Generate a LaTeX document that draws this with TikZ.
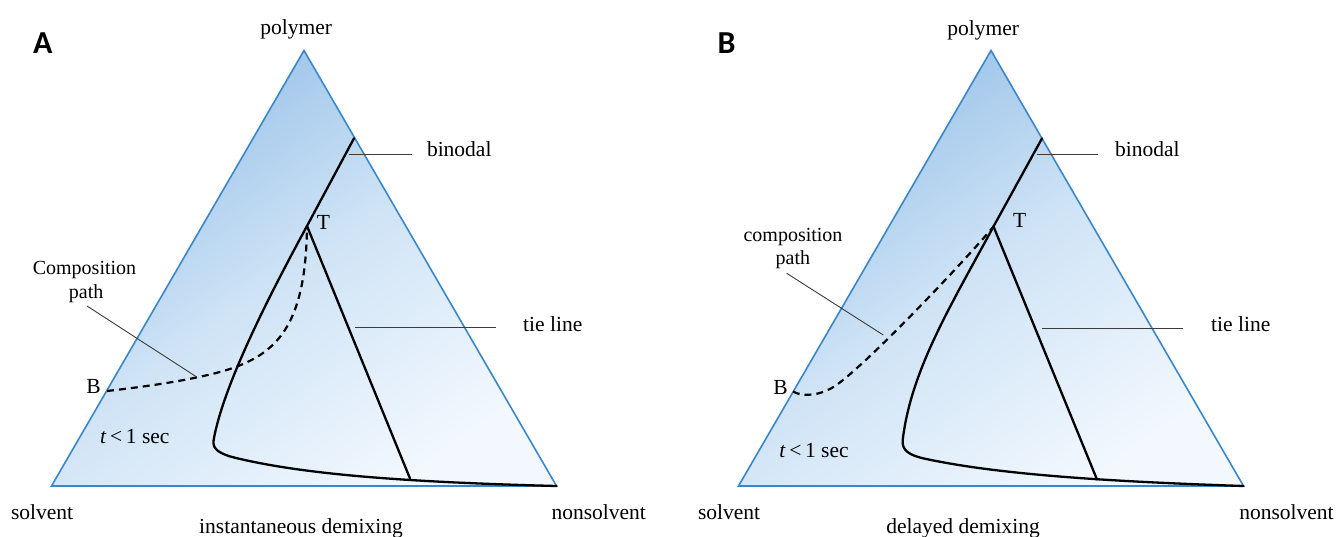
\documentclass[tikz,border=0pt]{standalone}
\usepackage{fontspec}
\setmainfont{Liberation Serif}
\newfontfamily\panelfont{Carlito}
\definecolor{triblue}{RGB}{58,135,201}
\definecolor{shA}{RGB}{150,192,232}
\definecolor{shB}{RGB}{208,228,246}
\definecolor{shC}{RGB}{242,248,254}
\definecolor{leadgray}{RGB}{60,60,60}
\begin{document}
\begin{tikzpicture}[x=1pt,y=-1pt,
  lbl/.style={font=\fontsize{21.5}{24}\selectfont, inner sep=0pt},
  smlbl/.style={font=\fontsize{20}{23}\selectfont, inner sep=0pt},
  paneltag/.style={font=\panelfont\bfseries\fontsize{32}{36}\selectfont, inner sep=0pt},
  tri/.style={draw=triblue, line width=1.6pt, line join=miter},
  bluefill/.style={top color=shA, bottom color=shC, middle color=shB, shading angle=35},
  curve/.style={draw=black, line width=2.3pt, line cap=round, line join=round},
  comppath/.style={draw=black, line width=2.2pt, dash pattern=on 7pt off 5pt},
  leader/.style={draw=leadgray, line width=0.9pt}]
\useasboundingbox (0,0) rectangle (1339,537);

% ---------------- Panel A ----------------
\coordinate (A-top) at (304,50.5);
\coordinate (A-left) at (51.5,486);
\coordinate (A-right) at (556.5,486);
\shade[bluefill] (A-top) -- (A-left) -- (A-right) -- cycle;
\draw[tri] (A-top) -- (A-left) -- (A-right) -- cycle;

\coordinate (A-R) at (354,138.3);
\coordinate (A-T) at (307,226);
\coordinate (A-tieend) at (410,478.5);
\coordinate (A-Bp) at (107,391);

\draw[curve] (A-R) -- (A-T) .. controls (275,285) and (225,380) .. (214,438)
  .. controls (212,447) and (215,452) .. (232,457)
  .. controls (300,474) and (400,482) .. (A-right);
\draw[curve] (A-T) -- (A-tieend);
\draw[comppath] (A-Bp) .. controls (170,384) and (215,375) .. (237,366.5)
  .. controls (280,350) and (306,320) .. (A-T);

\node[paneltag] (A-tag) at (42.7,43) {A};
\node[lbl, anchor=base] (A-poly) at (296.3,35) {polymer};
\node[lbl, anchor=base west] (A-binodal) at (426.8,157) {binodal};
\node[lbl, anchor=base west] (A-tie) at (523,332) {tie line};
\node[lbl, anchor=base west] (A-Tlbl) at (316.7,229.3) {T};
\node[lbl, anchor=base east] (A-Blbl) at (101,393) {B};
\node[smlbl, anchor=base] (A-comp1) at (84.5,275) {Composition};
\node[smlbl, anchor=base] (A-comp2) at (86.2,298.3) {path};
\node[lbl, anchor=base west] (A-time) at (100,443.3) {\textit{t}\,<\,1 sec};
\node[lbl, anchor=base west] (A-solv) at (10.8,519.2) {solvent};
\node[lbl, anchor=base west] (A-nonsolv) at (551.3,519.2) {nonsolvent};
\node[lbl, anchor=base west] (A-title) at (199,533) {instantaneous demixing};

\coordinate (A-bl1) at (348.5,154.2);
\coordinate (A-bl2) at (411.8,154.2);
\coordinate (A-tl1) at (355.3,327);
\coordinate (A-tl2) at (495.7,327);
\coordinate (A-cl1) at (87,306);
\coordinate (A-cl2) at (196.7,377);
\draw[leader] (A-bl1) -- (A-bl2);
\draw[leader] (A-tl1) -- (A-tl2);
\draw[leader] (A-cl1) -- (A-cl2);

% ---------------- Panel B ----------------
\coordinate (B-top) at (991,50.5);
\coordinate (B-left) at (738.5,486);
\coordinate (B-right) at (1243.5,486);
\shade[bluefill] (B-top) -- (B-left) -- (B-right) -- cycle;
\draw[tri] (B-top) -- (B-left) -- (B-right) -- cycle;

\coordinate (B-R) at (1042,138.4);
\coordinate (B-T) at (993.5,226.5);
\coordinate (B-tieend) at (1097,479.5);
\coordinate (B-Bp) at (793,391.5);

\draw[curve] (B-R) -- (B-T) .. controls (950.3,306.5) and (911.1,370) .. (902.7,440)
  .. controls (901.5,450) and (909,455) .. (923,458.3)
  .. controls (990,473) and (1090,481) .. (B-right);
\draw[curve] (B-T) -- (B-tieend);
\draw[comppath] (B-Bp) .. controls (802,397) and (820,396) .. (835,386)
  .. controls (865,366) and (963.5,262.5) .. (B-T);

\node[paneltag] (B-tag) at (726.7,43) {B};
\node[lbl, anchor=base] (B-poly) at (983.3,35.4) {polymer};
\node[lbl, anchor=base west] (B-binodal) at (1115,157) {binodal};
\node[lbl, anchor=base west] (B-tie) at (1211,332) {tie line};
\node[lbl, anchor=base west] (B-Tlbl) at (1013,228) {T};
\node[lbl, anchor=base east] (B-Blbl) at (788,395) {B};
\node[smlbl, anchor=base] (B-comp1) at (793,241.7) {composition};
\node[smlbl, anchor=base] (B-comp2) at (792.9,265) {path};
\node[lbl, anchor=base west] (B-time) at (779.2,457.8) {\textit{t}\,<\,1 sec};
\node[lbl, anchor=base west] (B-solv) at (697.9,519.6) {solvent};
\node[lbl, anchor=base west] (B-nonsolv) at (1239.1,519.6) {nonsolvent};
\node[lbl, anchor=base west] (B-title) at (886.1,533) {delayed demixing};

\coordinate (B-bl1) at (1037.2,154.5);
\coordinate (B-bl2) at (1097.9,154.5);
\coordinate (B-tl1) at (1041.7,328.3);
\coordinate (B-tl2) at (1182.7,328.3);
\coordinate (B-cl1) at (786.7,273.3);
\coordinate (B-cl2) at (883.3,335);
\draw[leader] (B-bl1) -- (B-bl2);
\draw[leader] (B-tl1) -- (B-tl2);
\draw[leader] (B-cl1) -- (B-cl2);
\end{tikzpicture}
\end{document}
